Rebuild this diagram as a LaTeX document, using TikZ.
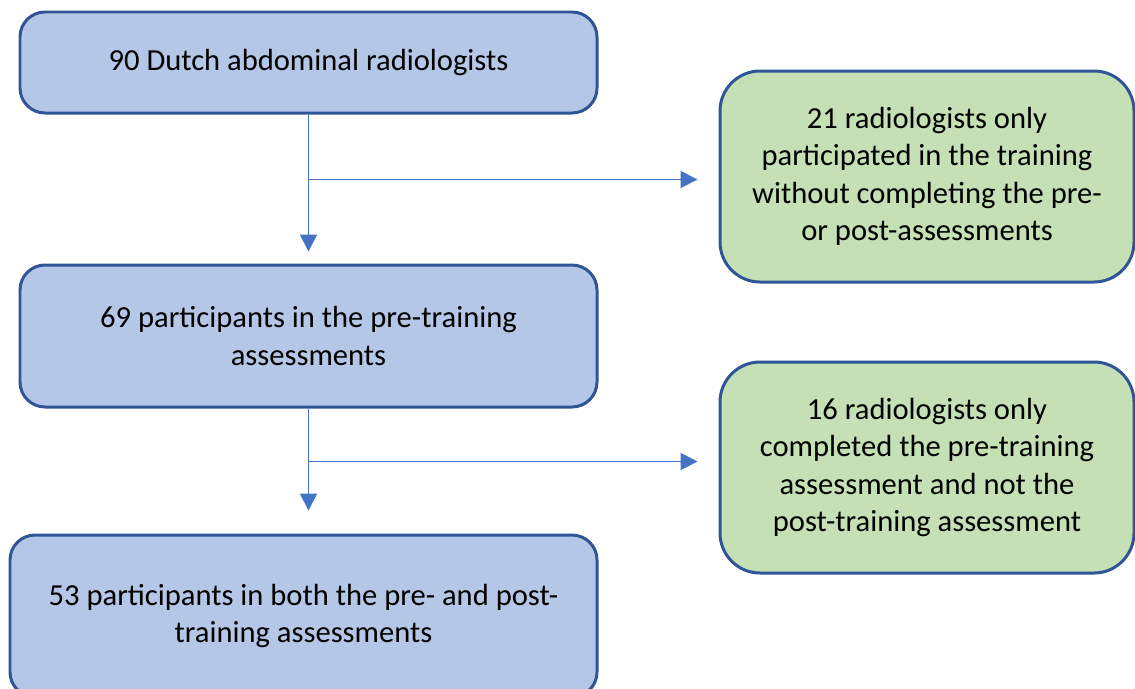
\documentclass[tikz,border=0pt]{standalone}
\usepackage{fontspec}
\setmainfont{Carlito}
\usepackage{tikz}
\usetikzlibrary{positioning,arrows.meta}
\definecolor{boxblue}{HTML}{B4C7E7}
\definecolor{boxgreen}{HTML}{C5E0B4}
\definecolor{edgeblue}{HTML}{2F5597}
\definecolor{arrblue}{HTML}{4472C4}
\tikzstyle{blk}=[draw=edgeblue, fill=boxblue, rounded corners=0.5cm, line width=1.7pt, align=center, minimum width=11.54cm]
\tikzstyle{grn}=[draw=edgeblue, fill=boxgreen, rounded corners=0.8cm, line width=1.7pt, align=center, minimum width=8.28cm, minimum height=4.22cm]
\tikzstyle{conn}=[->, draw=arrblue, line width=1.1pt]

\begin{document}
\begin{tikzpicture}[node distance=2cm,auto,>={Triangle[length=0.34cm,width=0.34cm]},font=\fontsize{17.4pt}{21.3pt}\selectfont]
\useasboundingbox (0,0) rectangle (22.7,-13.76);
  \node[blk, minimum height=2.02cm] at (6.17,-1.25) (total) {90 Dutch abdominal radiologists};
  \node[blk, minimum height=2.84cm, below of = total, node distance = 5.47cm] (pre) {69 participants in the pre-training\\assessments};
  \node[blk, minimum height=3.24cm, minimum width=11.74cm, below of = pre, node distance = 5.6cm, xshift=-0.1cm] (both) {53 participants in both the pre- and post-\\training assessments};

  \node[grn, right of = total, node distance = 12.37cm, yshift=-2.28cm] (only1) {21 radiologists only\\participated in the training\\without completing the pre-\\or post-assessments};
  \node[grn, right of = pre, node distance = 12.37cm, yshift=-2.63cm] (only2) {16 radiologists only\\completed the pre-training\\assessment and not the\\post-training assessment};

\coordinate[below=1.3cm of total.south] (split1);
\coordinate[below=1.06cm of pre.south] (split2);

\draw[conn, shorten >=0.24cm] (total.south) -- (pre.north);
\draw[conn, shorten >=0.42cm] (split1) -- (split1 -| only1.west);

\draw[conn, shorten >=0.46cm] (pre.south) -- (both.north -| pre.south);
\draw[conn, shorten >=0.42cm] (split2) -- (split2 -| only2.west);
\end{tikzpicture}
\end{document}
